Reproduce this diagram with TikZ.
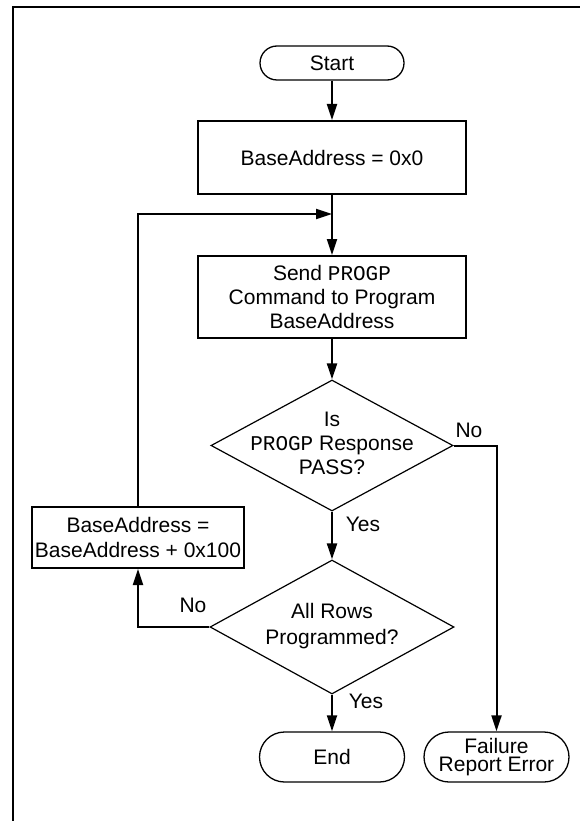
\documentclass[tikz,border=0pt]{standalone}
\usepackage{fontspec}
\setmainfont{Liberation Sans}
\setmonofont{Liberation Mono}
\usetikzlibrary{shapes.geometric,arrows.meta}
\begin{document}
\begin{tikzpicture}[x=1pt,y=-1pt,
  every node/.style={font=\fontsize{21}{24}\selectfont, inner sep=0pt, align=center},
  term/.style={draw, line width=1.3pt, minimum width=145pt},
  proc/.style={draw, line width=2pt},
  decide/.style={draw, shape=diamond, line width=1.2pt, inner sep=0pt},
  flow/.style={line width=2pt, -{Triangle[length=16pt,width=10pt]}},
  frameline/.style={line width=2pt}]
\useasboundingbox (0,0) rectangle (580,821);
% frame
\draw[frameline] (13,821) -- (13,7) -- (580,7);
% nodes
\node[term, rounded corners=17pt, minimum width=144pt, minimum height=34pt] (start) at (332,63) {Start};
\node[proc, minimum width=268pt, minimum height=73pt] (init) at (332,157.5) {BaseAddress = 0x0};
\node[proc, minimum width=268pt, minimum height=82pt] (send) at (332,297) {Send \texttt{PROGP}\\Command to Program\\BaseAddress};
\node[decide, minimum width=242pt, minimum height=131pt] (d1) at (332,445.5) {};
\node (d1t) at (332,443.5) {Is\\\texttt{PROGP} Response\\PASS?};
\node[decide, minimum width=244pt, minimum height=134pt] (d2) at (332,627) {};
\node[font=\fontsize{21}{26}\selectfont] (d2t) at (332,626.5) {All Rows\\Programmed?};
\node[proc, minimum width=212pt, minimum height=61pt, font=\fontsize{21}{25}\selectfont] (inc) at (138,537.5) {BaseAddress =\\BaseAddress + 0x100};
\node[term, rounded corners=25pt, minimum height=50pt] (end) at (332,757) {End};
\node[term, rounded corners=25pt, minimum height=50pt, font=\fontsize{21}{18}\selectfont] (fail) at (496.5,757) {Failure\\Report Error};
\coordinate (join) at (332,214);
% connectors
\draw[flow] (start) -- (init);
\draw[flow] (init) -- (send);
\draw[flow] (send) -- (d1);
\draw[flow] (d1) -- (d2);
\draw[flow] (d2) -- (end);
\draw[flow] (d1.east) -| (fail.north);
\draw[flow] (d2.west) -| (inc.south);
\draw[flow] (inc.north) |- (join);
% labels
\node (no1) at (469,430) {No};
\node (yes1) at (363,524) {Yes};
\node (no2) at (193,605) {No};
\node (yes2) at (366,701) {Yes};
\end{tikzpicture}
\end{document}
